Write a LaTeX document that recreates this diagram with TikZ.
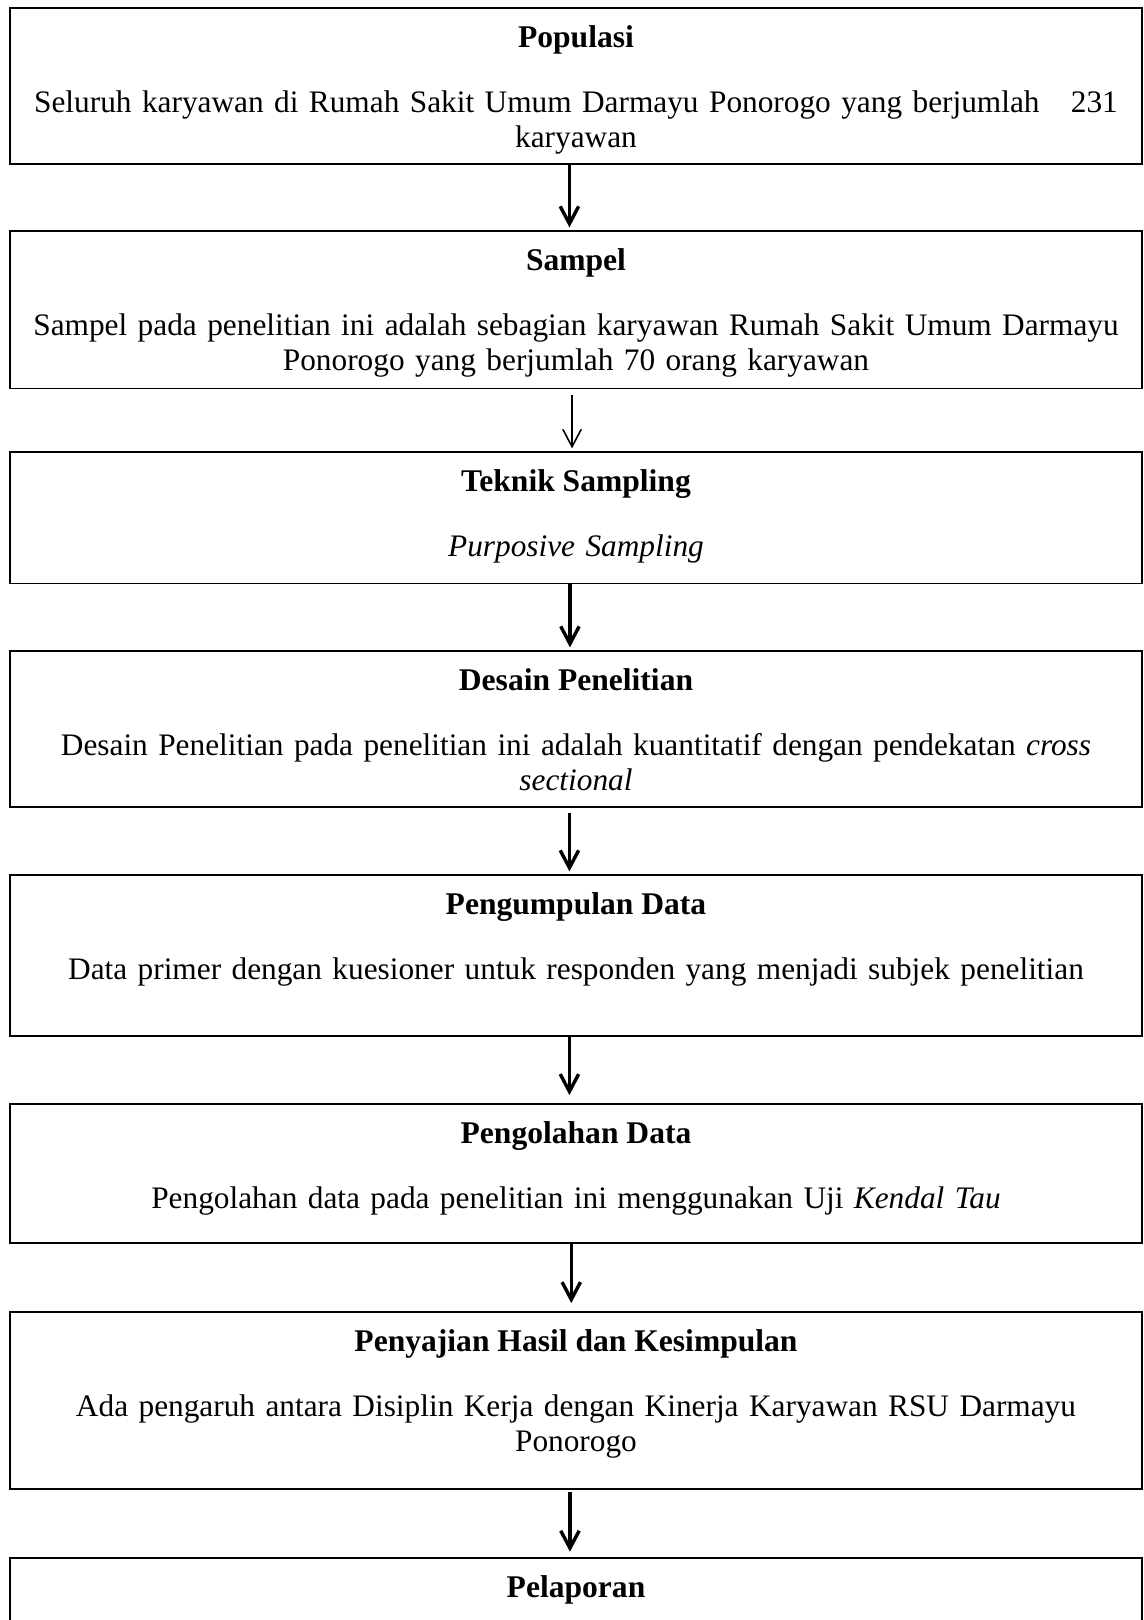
\documentclass[tikz,border=0pt]{standalone}
\usepackage{fontspec}
\setmainfont{Liberation Serif}
\usetikzlibrary{arrows.meta, positioning}

\tikzset{
	kotak/.style={draw, line width=0.6pt, minimum width=430.2pt, minimum height=#1, inner sep=0pt, anchor=north},
	judul/.style={font=\fontsize{12}{13.3}\selectfont\bfseries, inner sep=0pt},
	isi/.style={text width=430pt, align=center, inner sep=0pt},
	panah/.style={->, line width=1.3pt},
	panahtipis/.style={->, line width=0.6pt},
}

\begin{document}
\begin{tikzpicture}[x=0.38pt, y=-0.38pt, >={Straight Barb[length=6.6pt, width=7pt]}, font=\fontsize{11.9}{13.3}\selectfont]
		\clip (0,0) rectangle (1144,1620);
		% Kotak
		\node[kotak=59.3pt] (populasi) at (576,7) {};
		\node[kotak=60pt] (sampel) at (576,230) {};
		\node[kotak=50pt] (teknik) at (576,451) {};
		\node[kotak=59.3pt] (desain) at (576,650) {};
		\node[kotak=61.2pt] (kumpul) at (576,874) {};
		\node[kotak=52.8pt] (olah) at (576,1103) {};
		\node[kotak=67.3pt] (saji) at (576,1311) {};
		\node[kotak=80pt] (lapor) at (576,1557) {};

		% Judul
		\node[judul, below=15.4pt of populasi.north, anchor=base] (jPopulasi) {Populasi};
		\node[judul, below=15.4pt of sampel.north, anchor=base] (jSampel) {Sampel};
		\node[judul, below=15.4pt of teknik.north, anchor=base] (jTeknik) {Teknik Sampling};
		\node[judul, below=15.4pt of desain.north, anchor=base] (jDesain) {Desain Penelitian};
		\node[judul, below=15.4pt of kumpul.north, anchor=base] (jKumpul) {Pengumpulan Data};
		\node[judul, below=15.4pt of olah.north, anchor=base] (jOlah) {Pengolahan Data};
		\node[judul, below=15.4pt of saji.north, anchor=base] (jSaji) {Penyajian Hasil dan Kesimpulan};
		\node[judul, below=15.4pt of lapor.north, anchor=base] (jLapor) {Pelaporan};

		% Isi
		\node[isi, below=24.6pt of jPopulasi.base, anchor=base] (iPopulasi) {Seluruh karyawan di Rumah Sakit Umum Darmayu Ponorogo yang berjumlah\ \ \ 231\\ karyawan};
		\node[isi, below=24.6pt of jSampel.base, anchor=base] (iSampel) {Sampel pada penelitian ini adalah sebagian karyawan Rumah Sakit Umum Darmayu\\ Ponorogo yang berjumlah 70 orang karyawan};
		\node[isi, below=24.6pt of jTeknik.base, anchor=base] (iTeknik) {\textit{Purposive Sampling}};
		\node[isi, below=24.6pt of jDesain.base, anchor=base] (iDesain) {Desain Penelitian pada penelitian ini adalah kuantitatif dengan pendekatan \textit{cross}\\ \textit{sectional}};
		\node[isi, below=24.6pt of jKumpul.base, anchor=base] (iKumpul) {Data primer dengan kuesioner untuk responden yang menjadi subjek penelitian};
		\node[isi, below=24.6pt of jOlah.base, anchor=base] (iOlah) {Pengolahan data pada penelitian ini menggunakan Uji \textit{Kendal Tau}};
		\node[isi, below=24.6pt of jSaji.base, anchor=base] (iSaji) {Ada pengaruh antara Disiplin Kerja dengan Kinerja Karyawan RSU Darmayu\\ Ponorogo};

		% Panah
		\draw[panah] ([xshift=-2.5pt]populasi.south) -- ([xshift=-2.5pt, yshift=1pt]sampel.north);
		\draw[panahtipis] ([xshift=-1.5pt, yshift=-2pt]sampel.south) -- ([xshift=-1.5pt, yshift=1pt]teknik.north);
		\draw[panah] ([xshift=-2.3pt]teknik.south) -- ([xshift=-2.3pt, yshift=1pt]desain.north);
		\draw[panah] ([xshift=-2.5pt, yshift=-2pt]desain.south) -- ([xshift=-2.5pt, yshift=1pt]kumpul.north);
		\draw[panah] ([xshift=-2.5pt]kumpul.south) -- ([xshift=-2.5pt, yshift=3pt]olah.north);
		\draw[panah] ([xshift=-1.8pt]olah.south) -- ([xshift=-1.8pt, yshift=3pt]saji.north);
		\draw[panah] ([xshift=-2.3pt, yshift=-1pt]saji.south) -- ([xshift=-2.3pt, yshift=2pt]lapor.north);
	\end{tikzpicture}
\end{document}
